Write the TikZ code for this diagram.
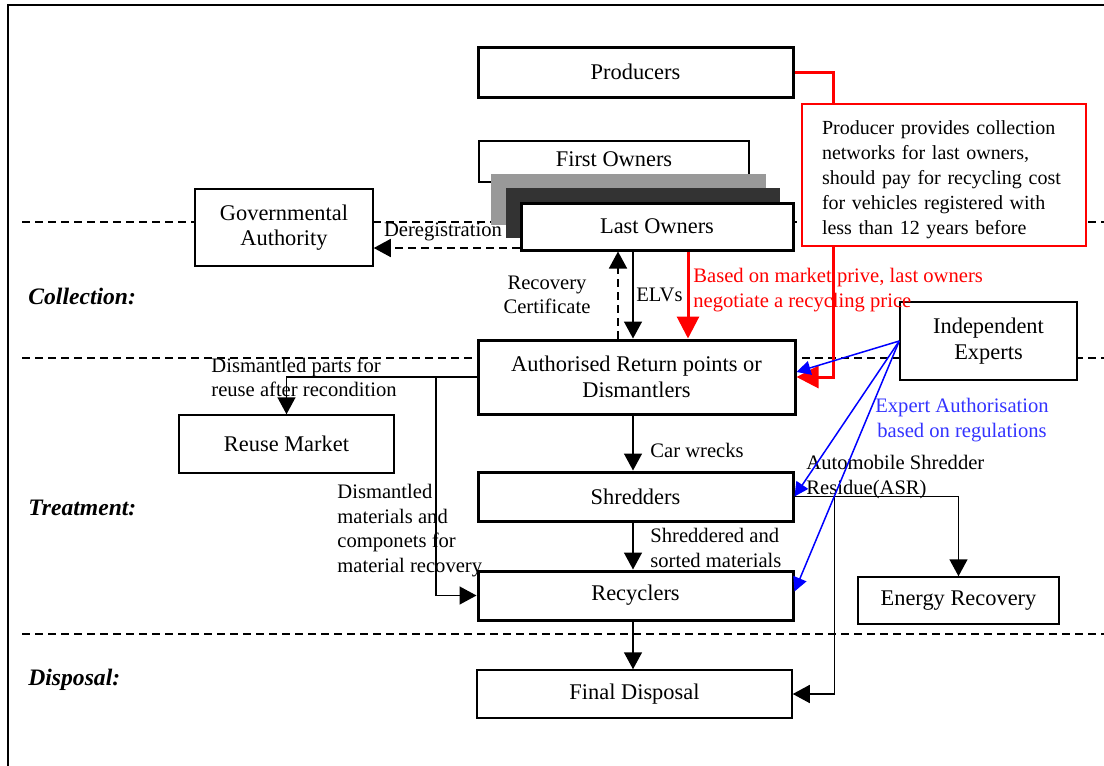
\documentclass[tikz,border=0pt]{standalone}
\usepackage{fontspec}
\setmainfont{Liberation Serif}
\usetikzlibrary{arrows.meta,calc}
\definecolor{lgray}{HTML}{999999}
\definecolor{dgray}{HTML}{333333}
\definecolor{lblue}{HTML}{3333FF}
\begin{document}
\begin{tikzpicture}[x=0.5pt,y=-0.5pt,
 box/.style={draw,fill=white,line width=1.5pt,align=center,inner sep=0pt,font=\fontsize{11.2}{12.8}\selectfont},
 tbox/.style={box,line width=0.75pt},
 lab/.style={inner sep=0pt,font=\fontsize{10.3}{12.3}\selectfont},
 sec/.style={inner sep=0pt,anchor=west,font=\fontsize{11.8}{14}\selectfont\bfseries\itshape},
 arr/.style={line width=0.75pt,-{Triangle[length=8.5pt,width=9pt]}},
 conn/.style={line width=0.75pt},
 dasharr/.style={arr,dash pattern=on 4pt off 2.5pt},
 sepline/.style={line width=0.75pt,dash pattern=on 4pt off 2.5pt},
 redarr/.style={red,line width=1.5pt,-{Triangle[length=11pt,width=11pt]}},
 bluearr/.style={blue,line width=0.75pt,-{Triangle[length=7pt,width=7pt]}}]
\useasboundingbox (0,0) rectangle (1104,766);
% frame
\draw[line width=1pt] (1104,5) -- (8,5) -- (8,766);
% section separators
\draw[sepline] (22,222) -- (1104,222);
\draw[sepline] (22,358) -- (1104,358);
\draw[sepline] (22,634) -- (1104,634);
% section labels
\node[sec] (scol) at (28,296) {Collection:};
\node[sec] (stre) at (28,508) {Treatment:};
\node[sec] (sdis) at (28,680) {Disposal:};
% producers and red connector
\node[box,minimum width=157.5pt,minimum height=25pt] (prod) at (635.5,72) {Producers};
\node[box,minimum width=158.5pt,minimum height=37pt] (auth) at (636.5,377) {Authorised Return points or\\Dismantlers};
\coordinate (rc) at (833,377);
\draw[redarr] (prod.east) -| (rc) -- (auth.east);
\node[draw=red,fill=white,line width=0.75pt,inner sep=0pt,minimum width=142pt,minimum height=71pt] (rbox) at (944,175) {};
\node[inner sep=0pt,text width=122pt,align=left,font=\fontsize{10}{12.5}\selectfont] (rtext) at (944,180) {Producer provides collection\\networks for last owners,\\should pay for recycling cost\\for vehicles registered with\\less than 12 years before};
% owners
\node[tbox,minimum width=135pt,minimum height=20.5pt] (first) at (614,161.5) {\raisebox{2.3pt}{First Owners}};
\fill[lgray] (491,174) rectangle (766,225);
\fill[dgray] (506,188) rectangle (780,238);
\node[box,minimum width=136pt,minimum height=23.5pt] (last) at (657,226.5) {Last Owners};
\node[tbox,minimum width=89pt,minimum height=38.5pt] (gov) at (284,227.5) {Governmental\\Authority};
\node[tbox,minimum width=88.5pt,minimum height=39pt] (indep) at (988.5,341) {Independent\\Experts};
\node[tbox,minimum width=107.5pt,minimum height=29pt] (reuse) at (286.5,444) {Reuse Market};
\node[box,minimum width=157.5pt,minimum height=24.5pt] (shred) at (635.5,496.5) {Shredders};
\node[box,minimum width=157.5pt,minimum height=24.5pt] (recyc) at (635.5,595.5) {Recyclers};
\node[tbox,minimum width=100.5pt,minimum height=23.5pt] (energy) at (958.5,600.5) {Energy Recovery};
\node[tbox,minimum width=157.5pt,minimum height=24pt] (final) at (634.5,694) {Final Disposal};
% deregistration
\coordinate (d1) at ($(last.west)+(0,21.5)$);
\draw[dasharr] (d1) -- (d1 -| gov.east);
\node[lab] (ldereg) at (443,232) {Deregistration};
% recovery certificate / ELVs
\draw[dasharr] ($(auth.north)+(-18.5,0)$) -- ($(last.south)+(-39,0)$);
\node[lab,align=center] (lrec) at (547,295) {Recovery\\Certificate};
\coordinate (cx) at (633,0);
\draw[arr] (last.south -| cx) -- (auth.north -| cx);
\node[lab,anchor=west] (lelv) at (636,295) {ELVs};
% red negotiate arrow
\draw[redarr] ($(last.south)+(31,0)$) -- ($(auth.north)+(51.5,0)$);
\node[lab,anchor=west,align=left,text=red] (lneg) at (693,290) {Based on market prive, last owners\\negotiate a recycling price};
% dismantled parts
\draw[arr] (auth.west) -| (reuse.north);
\coordinate (br) at (436,377);
\draw[arr] (br) |- (recyc.west);
\node[lab,anchor=west,align=left] (ldp) at (211,377.5) {Dismantled parts for\\reuse after recondition};
\node[lab,anchor=west,align=left] (ldm) at (337,530.5) {Dismantled\\materials and\\componets for\\material recovery};
% main chain
\draw[arr] (auth.south -| cx) -- (shred.north -| cx);
\node[lab,anchor=west] (lcw) at (650,450) {Car wrecks};
\draw[arr] (shred.south -| cx) -- (recyc.north -| cx);
\node[lab,anchor=west,align=left] (lss) at (650,548) {Shreddered and\\sorted materials};
\draw[arr] (recyc.south -| cx) -- (final.north -| cx);
% ASR
\draw[arr] (shred.east) -| (energy.north);
\coordinate (asr) at ($(shred.east)+(40,0)$);
\draw[arr] (asr) |- (final.east);
\node[lab,anchor=west,align=left] (lasr) at (806,477) {Automobile Shredder\\Residue(ASR)};
% expert authorisation
\draw[bluearr] (indep.west) -- ($(auth.east)+(0,-5)$);
\draw[bluearr] (indep.west) -- (shred.east);
\draw[bluearr] (indep.west) -- ($(recyc.east)+(0,-4)$);
\node[lab,align=center,text=lblue] (lexp) at (962,420) {Expert Authorisation\\based on regulations};
\end{tikzpicture}
\end{document}
